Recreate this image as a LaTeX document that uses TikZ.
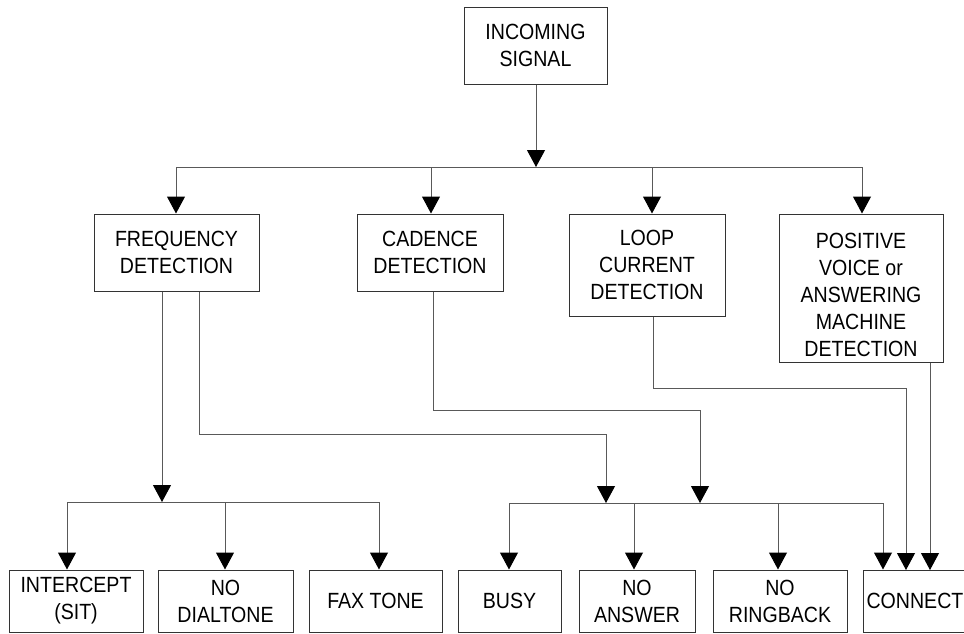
\documentclass[tikz,border=0pt]{standalone}
\usepackage{fontspec}
\setmainfont{Liberation Sans}[FakeStretch=0.89]
\usetikzlibrary{arrows.meta}
\begin{document}
\begin{tikzpicture}[x=1pt,y=-1pt,
  box/.style={draw=black!80, line width=1pt, rectangle, inner sep=0pt,
    align=center, font=\fontsize{22}{27}\selectfont},
  label/.style={inner sep=0pt, align=center, font=\fontsize{22}{27}\selectfont},
  wire/.style={draw=black!65, line width=1pt},
  arr/.style={wire, -{Triangle[width=18pt,length=17pt,color=black]}}]

\path[use as bounding box, clip] (0,0) rectangle (964,633);

% source
\node[box, minimum width=143pt, minimum height=77pt] (in) at (535.5,45.5) {INCOMING\\SIGNAL};

% detectors
\node[box, minimum width=165pt, minimum height=77pt] (freq) at (176.5,252.5) {FREQUENCY\\DETECTION};
\node[box, minimum width=146pt, minimum height=77pt] (cad) at (430,252.5) {CADENCE\\DETECTION};
\node[box, minimum width=156pt, minimum height=102pt] (loop) at (647,265) {LOOP\\CURRENT\\DETECTION};
\node[box, minimum width=164pt, minimum height=148pt] (pos) at (861,288) {};
\node[label] (posT) at (861,295) {POSITIVE\\VOICE or\\ANSWERING\\MACHINE\\DETECTION};

% outcomes
\node[box, minimum width=134pt, minimum height=62pt] (icp) at (76,601) {INTERCEPT\\(SIT)};
\node[box, minimum width=135pt, minimum height=62pt] (ndt) at (225.5,601) {NO\\DIALTONE};
\node[box, minimum width=133pt, minimum height=62pt] (fax) at (375.5,601) {FAX TONE};
\node[box, minimum width=103pt, minimum height=62pt] (busy) at (509.5,601) {BUSY};
\node[box, minimum width=116pt, minimum height=62pt] (nans) at (637,601) {NO\\ANSWER};
\node[box, minimum width=134pt, minimum height=62pt] (nrb) at (780,601) {NO\\RINGBACK};
\node[box, minimum width=104pt, minimum height=62pt] (conn) at (915,601) {CONNECT};

% top distribution bus
\coordinate (tb) at (536,167);
\coordinate (tb1) at (176,167);
\coordinate (tb2) at (431,167);
\coordinate (tb3) at (652,167);
\coordinate (tb4) at (862,167);
\draw[arr] (in.south -| tb) -- (tb);
\draw[wire] (tb1) -- (tb4);
\draw[arr] (tb1) -- (tb1 |- freq.north);
\draw[arr] (tb2) -- (tb2 |- cad.north);
\draw[arr] (tb3) -- (tb3 |- loop.north);
\draw[arr] (tb4) -- (tb4 |- pos.north);

% left outcome bus
\coordinate (lb) at (162,502);
\coordinate (lb1) at (67,502);
\coordinate (lb2) at (225,502);
\coordinate (lb3) at (379,502);
\draw[arr] (lb |- freq.south) -- (lb);
\draw[wire] (lb1) -- (lb3);
\draw[arr] (lb1) -- (lb1 |- icp.north);
\draw[arr] (lb2) -- (lb2 |- ndt.north);
\draw[arr] (lb3) -- (lb3 |- fax.north);

% right outcome bus
\coordinate (rbf) at (606,503);
\coordinate (rbc) at (700,503);
\coordinate (rb1) at (509,503);
\coordinate (rb2) at (634,503);
\coordinate (rb3) at (778,503);
\coordinate (rb4) at (883,503);
\draw[arr] (199,0 |- freq.south) -- (199,434) -| (rbf);
\draw[arr] (433,0 |- cad.south) -- (433,410) -| (rbc);
\draw[wire] (rb1) -- (rb4);
\draw[arr] (rb1) -- (rb1 |- busy.north);
\draw[arr] (rb2) -- (rb2 |- nans.north);
\draw[arr] (rb3) -- (rb3 |- nrb.north);
\draw[arr] (rb4) -- (rb4 |- conn.north);

% direct paths to connect
\coordinate (cl) at (906,570);
\coordinate (cp) at (930,570);
\draw[arr] (653,0 |- loop.south) -- (653,388) -| (cl);
\draw[arr] (cp |- pos.south) -- (cp);
\end{tikzpicture}
\end{document}
